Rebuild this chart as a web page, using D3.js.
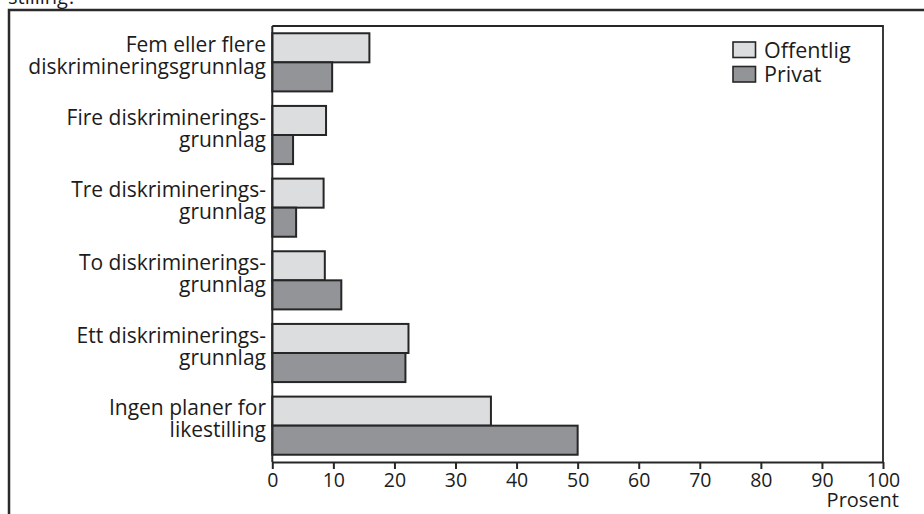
<!DOCTYPE html>
<html>
<head>
<meta charset="utf-8">
<script src="https://cdn.jsdelivr.net/npm/d3@7/dist/d3.min.js"></script>
<style>
  html, body { margin: 0; padding: 0; background: #fff; }
  svg { display: block; }
  text { font-family: "Open Sans", "Noto Sans", sans-serif; fill: #1c1c1c; }
</style>
</head>
<body>
<svg id="chart" width="924" height="514"></svg>
<script>
// Categories (top to bottom), each label split into lines
const categories = [
  ["Fem eller flere", "diskrimineringsgrunnlag"],
  ["Fire diskriminerings-", "grunnlag"],
  ["Tre diskriminerings-", "grunnlag"],
  ["To diskriminerings-", "grunnlag"],
  ["Ett diskriminerings-", "grunnlag"],
  ["Ingen planer for", "likestilling"]
];
const seriesNames = ["Offentlig", "Privat"];
const offentlig = [15.9, 8.8, 8.4, 8.6, 22.3, 35.8];
const privat = [9.8, 3.4, 3.9, 11.3, 21.8, 50.0];
const xTicks = [0, 10, 20, 30, 40, 50, 60, 70, 80, 90, 100];
const xTitle = "Prosent";
const headingTail = "stilling?";

const colors = { Offentlig: "#dcdddf", Privat: "#939498" };
const stroke = "#262626";

const svg = d3.select("#chart");
const plot = { left: 272.3, right: 883, top: 26, bottom: 462 };

const x = d3.scaleLinear().domain([0, 100]).range([plot.left, plot.right]);
const y = d3.scaleBand()
  .domain(d3.range(categories.length))
  .range([plot.top, plot.bottom])
  .paddingInner(0.2)
  .paddingOuter(0.1);
const ySub = d3.scaleBand().domain(seriesNames).range([0, y.bandwidth()]);

// tail of the heading line above the frame
svg.append("text").attr("x", 8).attr("y", 3.5)
  .style("font-size", "20px").text(headingTail);

// outer frame
svg.append("rect")
  .attr("x", 9).attr("y", 10).attr("width", 940).attr("height", 540)
  .attr("fill", "none").attr("stroke", "#2a2a2a").attr("stroke-width", 2.5);

// plot box: top and right edges
svg.append("path")
  .attr("d", `M${plot.left},${plot.top}H${plot.right}V${plot.bottom}`)
  .attr("fill", "none").attr("stroke", stroke).attr("stroke-width", 1.8);

// bars
const rows = categories.map((c, i) => ({ i, Offentlig: offentlig[i], Privat: privat[i] }));
const groups = svg.append("g").selectAll("g").data(rows).join("g")
  .attr("transform", d => `translate(0,${y(d.i)})`);
groups.selectAll("rect")
  .data(d => seriesNames.map(s => ({ s, v: d[s] })))
  .join("rect")
  .attr("x", x(0))
  .attr("y", d => ySub(d.s))
  .attr("width", d => x(d.v) - x(0))
  .attr("height", ySub.bandwidth())
  .attr("fill", d => colors[d.s])
  .attr("stroke", stroke)
  .attr("stroke-width", 2);

// category labels
const labels = svg.append("g").selectAll("text").data(categories).join("text")
  .attr("text-anchor", "end")
  .style("font-size", "21px");
labels.each(function(lines, i) {
  const cy = y(i) + y.bandwidth() / 2;
  d3.select(this).selectAll("tspan").data(lines).join("tspan")
    .attr("x", 266)
    .attr("y", (d, k) => cy - 10.5 + k * 22)
    .text(d => d);
});

// y axis line
svg.append("line")
  .attr("x1", plot.left).attr("x2", plot.left)
  .attr("y1", plot.top).attr("y2", plot.bottom)
  .attr("stroke", stroke).attr("stroke-width", 2);

// x axis
const xAxis = svg.append("g")
  .attr("transform", `translate(0,${plot.bottom})`)
  .call(d3.axisBottom(x).tickValues(xTicks).tickSize(7).tickPadding(4).tickSizeOuter(0));
xAxis.select(".domain").attr("stroke", stroke).attr("stroke-width", 2);
xAxis.selectAll(".tick line").attr("stroke", stroke).attr("stroke-width", 2);
xAxis.selectAll(".tick text")
  .style("font-family", "'Open Sans', sans-serif")
  .style("font-size", "19.5px")
  .attr("fill", "#1c1c1c");

svg.append("text")
  .attr("x", 899).attr("y", 507)
  .attr("text-anchor", "end")
  .style("font-size", "20px")
  .text(xTitle);

// legend
const legend = svg.append("g").selectAll("g").data(seriesNames).join("g")
  .attr("transform", (d, i) => `translate(733,${42 + i * 24.5})`);
legend.append("rect")
  .attr("width", 22.5).attr("height", 15.5)
  .attr("fill", d => colors[d])
  .attr("stroke", stroke).attr("stroke-width", 1.6);
legend.append("text")
  .attr("x", 31).attr("y", 15.5)
  .style("font-size", "21.5px")
  .text(d => d);
</script>
</body>
</html>
